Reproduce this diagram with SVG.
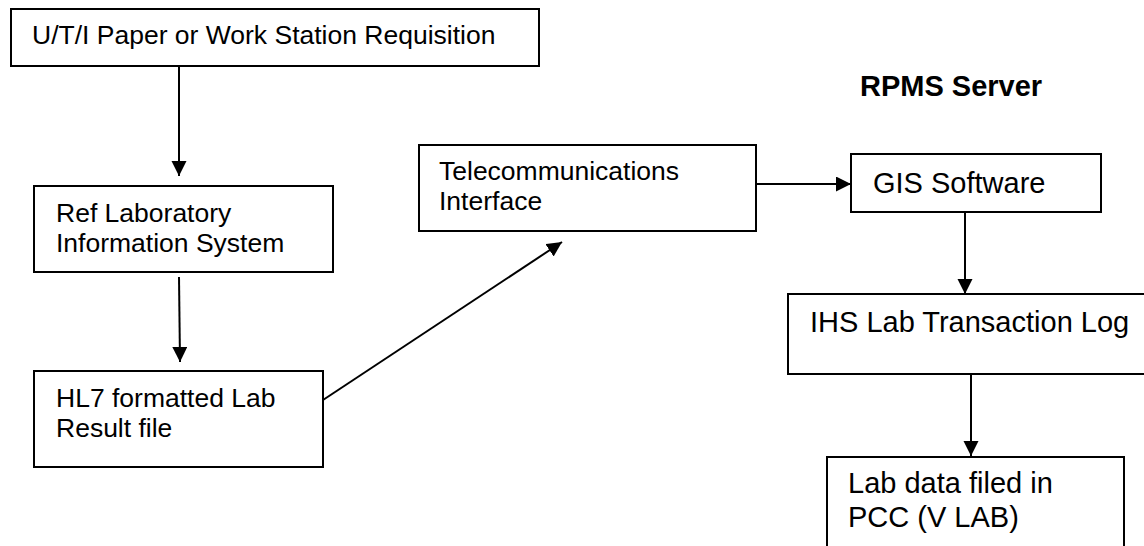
<svg xmlns="http://www.w3.org/2000/svg" width="1144" height="546" viewBox="0 0 1144 546">
<style>
.box{fill:#fff;stroke:#000;stroke-width:2}
.t{font-family:"Liberation Sans",Arial,sans-serif;font-size:26.5px;fill:#000}
.tr{font-family:"Liberation Sans",Arial,sans-serif;font-size:29px;fill:#000}
.b{font-family:"Liberation Sans",Arial,sans-serif;font-size:29px;font-weight:bold;fill:#000}
.c{fill:none;stroke:#000;stroke-width:2}
</style>
<defs>
<marker id="ah" markerUnits="userSpaceOnUse" markerWidth="16" markerHeight="16" refX="15" refY="7.5" orient="auto">
<path d="M0,0 L15,7.5 L0,15 z" fill="#000"/>
</marker>
</defs>
<rect width="1144" height="546" fill="#fff"/>
<g id="connectors">
<line class="c" x1="179" y1="66" x2="179" y2="176" marker-end="url(#ah)"/>
<line class="c" x1="179" y1="277" x2="180" y2="362" marker-end="url(#ah)"/>
<line class="c" x1="323" y1="400" x2="562" y2="242" marker-end="url(#ah)"/>
<line class="c" x1="756" y1="184" x2="851" y2="184" marker-end="url(#ah)"/>
<line class="c" x1="965" y1="212" x2="965" y2="294" marker-end="url(#ah)"/>
<line class="c" x1="971" y1="374" x2="971" y2="456" marker-end="url(#ah)"/>
</g>
<g id="req">
<rect class="box" x="11" y="9" width="528" height="57"/>
<text class="t" x="32" y="44">U/T/I Paper or Work Station Requisition</text>
</g>
<g id="reflab">
<rect class="box" x="34" y="186" width="299" height="86"/>
<text class="t" x="56" y="222">Ref Laboratory</text>
<text class="t" x="56" y="252">Information System</text>
</g>
<g id="hl7">
<rect class="box" x="34" y="371" width="289" height="96"/>
<text class="t" x="56" y="407">HL7 formatted Lab</text>
<text class="t" x="56" y="437">Result file</text>
</g>
<g id="telecom">
<rect class="box" x="419" y="145" width="337" height="86"/>
<text class="t" x="439" y="180">Telecommunications</text>
<text class="t" x="439" y="210">Interface</text>
</g>
<g id="rpms">
<text class="b" x="860" y="96">RPMS Server</text>
</g>
<g id="gis">
<rect class="box" x="851" y="154" width="250" height="58"/>
<text class="tr" x="873" y="193">GIS Software</text>
</g>
<g id="ihs">
<rect class="box" x="788" y="294" width="380" height="80"/>
<text class="tr" x="810" y="332">IHS Lab Transaction Log</text>
</g>
<g id="labdata">
<rect class="box" x="827" y="457" width="297" height="110"/>
<text class="tr" x="848" y="493">Lab data filed in</text>
<text class="tr" x="848" y="527">PCC (V LAB)</text>
</g>
</svg>
